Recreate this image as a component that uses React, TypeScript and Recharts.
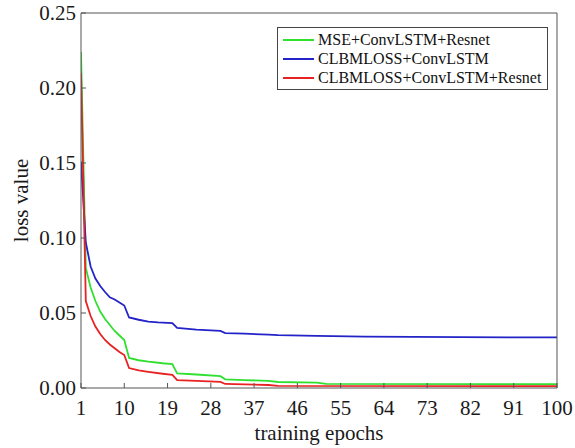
import { LineChart, Line, XAxis, YAxis, Legend, Label } from "recharts";

const epochTicks = [1, 10, 19, 28, 37, 46, 55, 64, 73, 82, 91, 100];
const lossTicks = [0, 0.05, 0.1, 0.15, 0.2, 0.25];

// MSE+ConvLSTM+Resnet
const mseEpochs = [1, 2, 3, 4, 5, 6, 7, 8, 9, 10, 11, 13, 15, 18, 20, 21, 25, 30, 31, 35, 40, 42, 50, 52, 100];
const mseLoss = [0.224, 0.08, 0.067, 0.058, 0.051, 0.046, 0.042, 0.038, 0.035, 0.032, 0.02, 0.0185, 0.0176, 0.0165, 0.016, 0.0098, 0.009, 0.0079, 0.0058, 0.0053, 0.0047, 0.004, 0.0036, 0.0028, 0.0026];

// CLBMLOSS+ConvLSTM
const clbmEpochs = [1, 2, 3, 4, 5, 6, 7, 8, 9, 10, 11, 13, 15, 17, 20, 21, 25, 30, 31, 35, 40, 42, 50, 60, 70, 80, 90, 100];
const clbmLoss = [0.151, 0.097, 0.081, 0.073, 0.068, 0.064, 0.0605, 0.059, 0.057, 0.055, 0.047, 0.0455, 0.0443, 0.0437, 0.0433, 0.04, 0.0389, 0.0381, 0.0366, 0.0362, 0.0356, 0.0352, 0.0347, 0.0343, 0.0341, 0.0339, 0.0338, 0.0337];

// CLBMLOSS+ConvLSTM+Resnet
const clbmResEpochs = [1, 2, 3, 4, 5, 6, 7, 8, 9, 10, 11, 13, 15, 18, 20, 21, 25, 30, 31, 35, 40, 42, 100];
const clbmResLoss = [0.21, 0.058, 0.048, 0.041, 0.036, 0.032, 0.029, 0.0265, 0.024, 0.022, 0.0133, 0.0118, 0.0108, 0.0095, 0.0087, 0.0053, 0.0047, 0.0041, 0.0027, 0.0024, 0.002, 0.0014, 0.0012];

const toPoints = (epochs: number[], loss: number[]) =>
  epochs.map((epoch, i) => ({ epoch, loss: loss[i] }));

const series = [
  { name: "MSE+ConvLSTM+Resnet", color: "#2fe02f", data: toPoints(mseEpochs, mseLoss) },
  { name: "CLBMLOSS+ConvLSTM", color: "#2323c8", data: toPoints(clbmEpochs, clbmLoss) },
  { name: "CLBMLOSS+ConvLSTM+Resnet", color: "#e82222", data: toPoints(clbmResEpochs, clbmResLoss) },
];

const font = "Liberation Serif, serif";
const axisColor = "#555";
const tickStyle = { fontSize: 21, fill: "#1a1a1a", style: { fontFamily: font } };

function LegendBox({ payload }: any) {
  // keep the plotting order, not the alphabetical one
  const items = [...(payload || [])].sort(
    (a: any, b: any) =>
      series.findIndex((s) => s.name === a.value) - series.findIndex((s) => s.name === b.value)
  );
  return (
    <div
      style={{
        border: "1px solid #444",
        background: "#fff",
        padding: "2px 6px 2px 5px",
        fontFamily: font,
        fontSize: 16,
        lineHeight: "19px",
        color: "#111",
      }}
    >
      {items.map((p: any) => (
        <div key={p.value} style={{ display: "flex", alignItems: "center" }}>
          <svg width={32} height={19} style={{ marginRight: 3 }}>
            <line x1={0} x2={31} y1={10} y2={10} stroke={p.color} strokeWidth={2} />
          </svg>
          <span>{p.value}</span>
        </div>
      ))}
    </div>
  );
}

export default function App() {
  return (
    <div style={{ position: "absolute", left: 0, top: 0, background: "#fff", fontFamily: font }}>
      <LineChart
        width={575}
        height={448}
        margin={{ top: 0, right: 0, bottom: 0, left: 0 }}
        style={{ fontFamily: font }}
      >
        <XAxis
          dataKey="epoch"
          type="number"
          domain={[1, 100]}
          ticks={epochTicks}
          interval={0}
          height={60}
          allowDataOverflow
          stroke={axisColor}
          tickSize={-5}
          tickMargin={17}
          tick={tickStyle}
        >
          <Label
            content={({ viewBox }: any) => (
              <text
                x={viewBox.x + viewBox.width / 2}
                y={viewBox.y + 52}
                textAnchor="middle"
                style={{ fontFamily: font, fontSize: 21 }}
                fill="#1a1a1a"
              >
                training epochs
              </text>
            )}
          />
        </XAxis>
        <XAxis
          xAxisId="top"
          orientation="top"
          type="number"
          domain={[1, 100]}
          ticks={epochTicks}
          interval={0}
          height={13}
          stroke={axisColor}
          tickSize={5}
          tick={false}
        />
        <YAxis
          type="number"
          domain={[0, 0.25]}
          ticks={lossTicks}
          interval={0}
          width={81}
          stroke={axisColor}
          tickSize={-5}
          tickMargin={10}
          tick={tickStyle}
          tickFormatter={(v: number) => v.toFixed(2)}
        >
          <Label
            content={({ viewBox }: any) => {
              const cx = 21;
              const cy = viewBox.y + viewBox.height / 2;
              return (
                <text
                  x={cx}
                  y={cy}
                  transform={`rotate(-90 ${cx} ${cy})`}
                  textAnchor="middle"
                  dominantBaseline="central"
                  style={{ fontFamily: font, fontSize: 21 }}
                  fill="#1a1a1a"
                >
                  loss value
                </text>
              );
            }}
          />
        </YAxis>
        <YAxis
          yAxisId="right"
          orientation="right"
          type="number"
          domain={[0, 0.25]}
          ticks={lossTicks}
          interval={0}
          width={18}
          stroke={axisColor}
          tickSize={5}
          tick={false}
        />
        <Legend
          layout="horizontal"
          verticalAlign="middle"
          align="center"
          content={<LegendBox />}
          wrapperStyle={{ left: 277, top: 27, width: "auto" }}
        />
        {series.map((s) => (
          <Line
            key={s.name}
            data={s.data}
            dataKey="loss"
            name={s.name}
            type="linear"
            stroke={s.color}
            strokeWidth={1.8}
            dot={false}
            isAnimationActive={false}
          />
        ))}
      </LineChart>
    </div>
  );
}
